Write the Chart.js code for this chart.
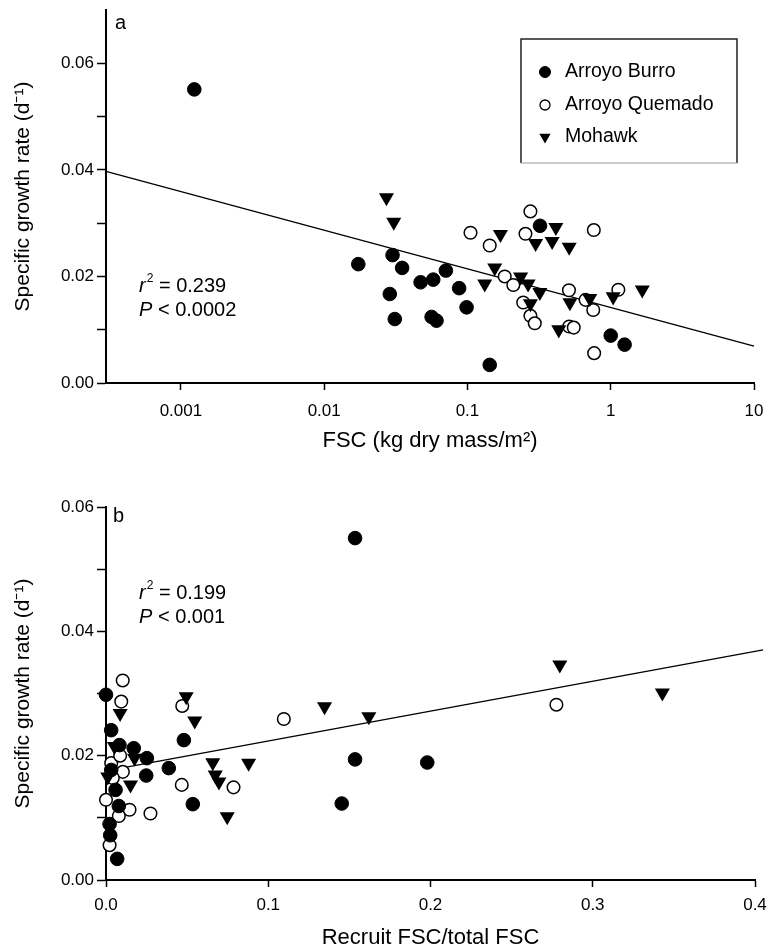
<!DOCTYPE html>
<html>
<head>
<meta charset="utf-8">
<script src="https://cdn.jsdelivr.net/npm/chart.js@4.4.1/dist/chart.umd.min.js"></script>
<style>
  html, body { margin: 0; padding: 0; background: #fff; overflow: hidden; }
  canvas { position: absolute; left: 0; }
  #chartA { top: 0; }
  #chartB { top: 470px; }
</style>
</head>
<body>
<canvas id="chartA" width="768" height="470"></canvas>
<canvas id="chartB" width="768" height="490"></canvas>
<script>
const FONT = "'Liberation Sans', Arial, Helvetica, sans-serif";

// panel a : growth rate vs FSC (log x)
const burroFscA = [0.00124, 0.0173, 0.030, 0.035, 0.0707, 0.0471, 0.0577, 0.0875, 0.0287, 0.0986, 0.0311, 0.0562, 0.0608, 0.143, 0.321, 1.0, 1.25];
const burroRateA = [0.0551, 0.0223, 0.0240, 0.0216, 0.0211, 0.0189, 0.0194, 0.0178, 0.0167, 0.0142, 0.0120, 0.0124, 0.0117, 0.0034, 0.0295, 0.0089, 0.0072];
const quemadoFscA = [0.105, 0.143, 0.275, 0.254, 0.762, 0.182, 0.209, 0.511, 0.245, 0.667, 0.755, 1.13, 0.275, 0.295, 0.513, 0.552, 0.766];
const quemadoRateA = [0.0282, 0.0258, 0.0322, 0.0280, 0.0287, 0.0200, 0.0184, 0.0174, 0.0151, 0.0156, 0.0137, 0.0175, 0.0126, 0.0112, 0.0106, 0.0104, 0.0056];
const mohawkFscA = [0.0272, 0.0306, 0.414, 0.170, 0.299, 0.390, 0.513, 0.155, 0.235, 0.265, 0.132, 0.320, 0.275, 0.519, 0.714, 1.04, 1.66, 0.434];
const mohawkRateA = [0.0348, 0.0302, 0.0292, 0.0279, 0.0262, 0.0266, 0.0255, 0.0216, 0.0199, 0.0186, 0.0186, 0.0170, 0.0149, 0.0151, 0.0159, 0.0162, 0.0175, 0.0100];
const fitXA = [0.0003, 10];
const fitYA = [0.0397, 0.0069];
const xTicksA = [0.001, 0.01, 0.1, 1, 10];

// panel b : growth rate vs recruit FSC / total FSC
const burroRecB = [0.1535, 0, 0.0032, 0.0083, 0.0171, 0.0252, 0.0387, 0.0248, 0.048, 0.0535, 0.0032, 0.0059, 0.0079, 0.0022, 0.0026, 0.0069, 0.1535, 0.1453, 0.198];
const burroRateB = [0.0550, 0.0298, 0.0241, 0.0217, 0.0212, 0.0196, 0.0180, 0.0168, 0.0225, 0.0122, 0.0177, 0.0145, 0.0119, 0.0090, 0.0072, 0.0034, 0.0194, 0.0123, 0.0189];
const quemadoRecB = [0.0103, 0.0094, 0.047, 0.1096, 0.2776, 0.0032, 0.0087, 0.0104, 0.0467, 0.0786, 0, 0.0145, 0.0079, 0.0274, 0.0022, 0.0042];
const quemadoRateB = [0.0321, 0.0287, 0.0280, 0.0259, 0.0282, 0.0188, 0.0200, 0.0174, 0.0153, 0.0149, 0.0129, 0.0113, 0.0103, 0.0107, 0.0056, 0.0164];
const mohawkRecB = [0.2797, 0.3429, 0.0494, 0.1347, 0.162, 0.0547, 0.0087, 0.0052, 0.0176, 0.0658, 0.0879, 0.0673, 0.0696, 0.0151, 0.0011, 0.0747];
const mohawkRateB = [0.0346, 0.0301, 0.0295, 0.0279, 0.0263, 0.0256, 0.0268, 0.0215, 0.0196, 0.0189, 0.0188, 0.0169, 0.0158, 0.0153, 0.0166, 0.0102];
const fitXB = [0.005, 0.405];
const fitYB = [0.0178, 0.0370];
const xTicksB = [0, 0.1, 0.2, 0.3, 0.4];

const yTicks = [0, 0.01, 0.02, 0.03, 0.04, 0.05, 0.06];
const siteNames = ['Arroyo Burro', 'Arroyo Quemado', 'Mohawk'];

const pts = (xs, ys) => xs.map((x, i) => ({ x: x, y: ys[i] }));

const burroStyle = { pointStyle: 'circle', pointRadius: 6.8, backgroundColor: '#000', borderColor: '#000', borderWidth: 1 };
const quemadoStyle = { pointStyle: 'circle', pointRadius: 6.3, backgroundColor: '#fff', borderColor: '#000', borderWidth: 1.5 };
const mohawkStyle = { pointStyle: 'triangle', pointRadius: 8.7, rotation: 180, backgroundColor: '#000', borderColor: '#000', borderWidth: 0 };

function datasets(bx, by, qx, qy, mx, my, fx, fy) {
    return [
        Object.assign({ label: siteNames[2], data: pts(mx, my), clip: false }, mohawkStyle),
        Object.assign({ label: siteNames[0], data: pts(bx, by), clip: false }, burroStyle),
        Object.assign({ label: siteNames[1], data: pts(qx, qy), clip: false }, quemadoStyle),
        { label: 'fit', data: pts(fx, fy), showLine: true, pointRadius: 0, borderColor: '#000', borderWidth: 1.3, clip: false }
    ];
}

function yAxis() {
    return {
        min: 0, max: 0.07,
        afterBuildTicks: s => { s.ticks = yTicks.map(v => ({ value: v })); },
        afterFit: s => { s.width = 106; s.paddingTop = 0; s.paddingBottom = 0; },
        ticks: {
            callback: v => (Math.round(v * 100) % 2 === 0 ? v.toFixed(2) : ''),
            font: { size: 17, family: FONT }, color: '#000', padding: 3
        },
        grid: { display: true, drawOnChartArea: false, drawTicks: true, tickLength: 9, tickWidth: 1.5, tickColor: '#000' },
        border: { display: true, color: '#000', width: 2 },
        title: { display: true, text: 'Specific growth rate (d⁻¹)', font: { size: 21, family: FONT }, color: '#000', padding: { top: 11, bottom: 0 } }
    };
}

function xGrid() {
    return { display: true, drawOnChartArea: false, drawTicks: true, tickLength: 7, tickWidth: 1.5, tickColor: '#000' };
}

function statText(ctx, x, y1, y2, r2, p) {
    ctx.save();
    ctx.fillStyle = '#000';
    ctx.textAlign = 'left';
    ctx.textBaseline = 'middle';
    ctx.font = 'italic 20px ' + FONT;
    ctx.fillText('r', x, y1);
    const w = ctx.measureText('r').width;
    ctx.font = '12px ' + FONT;
    ctx.fillText('2', x + w + 1, y1 - 7);
    const w2 = ctx.measureText('2').width;
    ctx.font = '20px ' + FONT;
    ctx.fillText(' = ' + r2, x + w + w2 + 1, y1);
    ctx.font = 'italic 20px ' + FONT;
    ctx.fillText('P', x, y2);
    const w3 = ctx.measureText('P').width;
    ctx.font = '20px ' + FONT;
    ctx.fillText(' < ' + p, x + w3, y2);
    ctx.restore();
}

const notesA = {
    id: 'notesA',
    afterDraw(chart) {
        const ctx = chart.ctx;
        ctx.save();
        ctx.fillStyle = '#000';
        ctx.font = '20px ' + FONT;
        ctx.textBaseline = 'middle';
        ctx.fillText('a', 115, 23);
        // legend box
        ctx.strokeStyle = '#222';
        ctx.lineWidth = 1.5;
        ctx.beginPath();
        ctx.moveTo(521, 163); ctx.lineTo(521, 39); ctx.lineTo(737, 39); ctx.lineTo(737, 163);
        ctx.stroke();
        ctx.strokeStyle = '#999';
        ctx.lineWidth = 1;
        ctx.beginPath(); ctx.moveTo(521, 163); ctx.lineTo(737, 163); ctx.stroke();
        const rows = [72, 105, 137];
        const styles = [
            { pointStyle: 'circle', radius: 5.5, borderWidth: 1, fill: '#000' },
            { pointStyle: 'circle', radius: 5, borderWidth: 1.3, fill: '#fff' },
            { pointStyle: 'triangle', radius: 6.5, rotation: 180, borderWidth: 0, fill: '#000' }
        ];
        rows.forEach((y, i) => {
            ctx.fillStyle = styles[i].fill;
            ctx.strokeStyle = '#000';
            ctx.lineWidth = styles[i].borderWidth;
            Chart.helpers.drawPoint(ctx, styles[i], 545, y);
            ctx.fillStyle = '#000';
            ctx.font = '19.5px ' + FONT;
            ctx.textAlign = 'left';
            ctx.fillText(siteNames[i], 565, y);
        });
        ctx.restore();
        statText(ctx, 139, 286, 310, '0.239', '0.0002');
    }
};

const notesB = {
    id: 'notesB',
    afterDraw(chart) {
        const ctx = chart.ctx;
        ctx.save();
        ctx.fillStyle = '#000';
        ctx.font = '20px ' + FONT;
        ctx.textBaseline = 'middle';
        ctx.fillText('b', 113, 46);
        ctx.restore();
        statText(ctx, 139, 123, 147, '0.199', '0.001');
    }
};

new Chart(document.getElementById('chartA'), {
    type: 'scatter',
    data: { datasets: datasets(burroFscA, burroRateA, quemadoFscA, quemadoRateA, mohawkFscA, mohawkRateA, fitXA, fitYA) },
    options: {
        responsive: false, animation: false, events: [],
        layout: { padding: { top: 10, right: 14, bottom: 0, left: 0 } },
        plugins: { legend: { display: false }, tooltip: { enabled: false } },
        scales: {
            x: {
                type: 'logarithmic', min: 0.0003, max: 10,
                afterBuildTicks: s => { s.ticks = xTicksA.map(v => ({ value: v })); },
                afterFit: s => { s.height = 87; s.paddingLeft = 0; s.paddingRight = 0; },
                ticks: { callback: v => String(v), font: { size: 17, family: FONT }, color: '#000', padding: 11, maxRotation: 0 },
                grid: xGrid(),
                border: { display: true, color: '#000', width: 2 },
                title: { display: true, text: 'FSC (kg dry mass/m²)', font: { size: 22, family: FONT }, color: '#000', padding: { top: 0, bottom: 16 } }
            },
            y: yAxis()
        }
    },
    plugins: [notesA]
});

new Chart(document.getElementById('chartB'), {
    type: 'scatter',
    data: { datasets: datasets(burroRecB, burroRateB, quemadoRecB, quemadoRateB, mohawkRecB, mohawkRateB, fitXB, fitYB) },
    options: {
        responsive: false, animation: false, events: [],
        layout: { padding: { top: 37, right: 13, bottom: 0, left: 0 } },
        plugins: { legend: { display: false }, tooltip: { enabled: false } },
        scales: {
            x: {
                type: 'linear', min: 0, max: 0.4,
                afterBuildTicks: s => { s.ticks = xTicksB.map(v => ({ value: v })); },
                afterFit: s => { s.height = 80; s.paddingLeft = 0; s.paddingRight = 0; },
                ticks: { callback: v => v.toFixed(1), font: { size: 17, family: FONT }, color: '#000', padding: 8, maxRotation: 0 },
                grid: xGrid(),
                border: { display: true, color: '#000', width: 2 },
                title: { display: true, text: 'Recruit FSC/total FSC', font: { size: 22, family: FONT }, color: '#000', padding: { top: 0, bottom: 9 } }
            },
            y: Object.assign(yAxis(), { max: 0.06 })
        }
    },
    plugins: [notesB]
});
</script>
</body>
</html>
